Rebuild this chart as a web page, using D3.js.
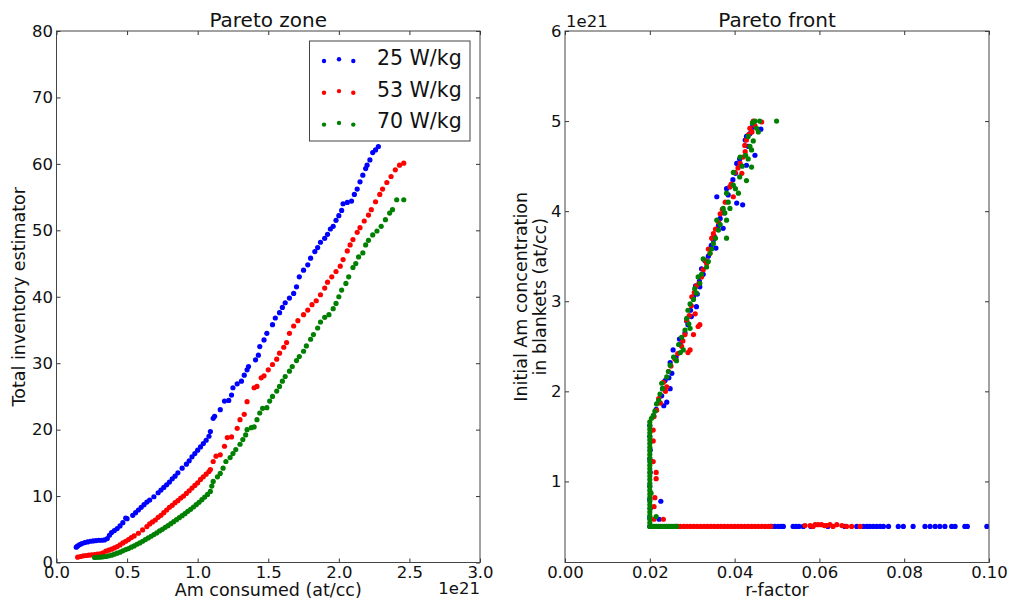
<!DOCTYPE html>
<html><head><meta charset="utf-8">
<script src="https://cdn.jsdelivr.net/npm/d3@7"></script>
<style>
body{margin:0;background:#fff;}
svg text{font-family:"DejaVu Sans",sans-serif;fill:#111;}
</style></head>
<body><svg id="c" width="1010" height="601"></svg>
<script>
// ---------- DATA ----------
const seriesNames = ["25 W/kg", "53 W/kg", "70 W/kg"];
const seriesColors = ["#0000ff", "#ff0000", "#008000"];
const leftXTicks = [0, 0.5, 1.0, 1.5, 2.0, 2.5, 3.0];
const leftYTicks = [0, 10, 20, 30, 40, 50, 60, 70, 80];
const rightXTicks = [0, 0.02, 0.04, 0.06, 0.08, 0.10];
const rightYTicks = [1, 2, 3, 4, 5, 6];

// Pareto zone: [Am consumed (1e21 at/cc), total inventory estimator]
const zone25 = [[0.14,2.3],[0.15,2.5],[0.165,2.7],[0.18,2.85],[0.2,3.0],[0.22,3.1],[0.24,3.2],[0.26,3.25],[0.28,3.3],[0.3,3.35],[0.32,3.35],[0.34,3.4],[0.36,3.6],[0.375,4.1],[0.39,4.5],[0.41,4.8],[0.43,5.1],[0.45,5.5],[0.47,6.0],[0.49,6.7],[0.5,6.6],[0.54,7.1],[0.56,7.5],[0.58,7.9],[0.6,8.3],[0.62,8.7],[0.64,9.1],[0.66,9.4],[0.69,9.9],[0.72,10.5],[0.74,10.9],[0.76,11.3],[0.78,11.7],[0.8,12.1],[0.82,12.6],[0.84,13.0],[0.86,13.5],[0.89,14.2],[0.92,14.8],[0.94,15.3],[0.96,15.9],[0.98,16.4],[1.0,16.9],[1.02,17.4],[1.04,17.9],[1.06,18.4],[1.08,19.0],[1.09,19.7],[1.11,21.7],[1.12,22.0],[1.16,23.0],[1.19,24.3],[1.22,24.4],[1.24,25.2],[1.25,26.3],[1.28,26.9],[1.31,27.3],[1.33,28.2],[1.35,29.0],[1.36,29.5],[1.41,30.5],[1.43,31.2],[1.44,32.5],[1.47,33.5],[1.49,34.5],[1.53,35.8],[1.55,36.8],[1.58,37.6],[1.6,38.4],[1.62,39.1],[1.65,39.8],[1.68,40.5],[1.7,41.5],[1.72,43.0],[1.75,44.0],[1.78,44.8],[1.8,45.8],[1.83,46.8],[1.85,47.4],[1.87,48.2],[1.9,48.8],[1.92,49.4],[1.94,50.2],[1.96,50.6],[1.98,51.5],[2.0,52.2],[2.02,53.0],[2.03,54.0],[2.06,54.2],[2.09,54.4],[2.11,55.4],[2.13,56.2],[2.15,57.3],[2.17,58.3],[2.19,59.3],[2.2,59.8],[2.22,60.6],[2.24,61.7],[2.26,62.1],[2.28,62.6]];
const zone53 = [[0.15,0.8],[0.17,0.9],[0.19,1.0],[0.21,1.05],[0.23,1.1],[0.25,1.15],[0.27,1.2],[0.29,1.25],[0.31,1.3],[0.33,1.45],[0.35,1.7],[0.37,1.85],[0.39,2.0],[0.41,2.2],[0.43,2.4],[0.45,2.65],[0.47,2.95],[0.49,3.2],[0.51,3.45],[0.53,3.75],[0.55,4.0],[0.58,4.4],[0.61,4.9],[0.64,5.4],[0.66,5.8],[0.68,6.1],[0.7,6.4],[0.72,6.8],[0.74,7.1],[0.76,7.5],[0.78,7.9],[0.8,8.3],[0.82,8.6],[0.84,9.0],[0.86,9.3],[0.88,9.7],[0.9,10.0],[0.92,10.4],[0.94,10.8],[0.96,11.2],[0.98,11.6],[1.0,12.0],[1.02,12.5],[1.04,12.9],[1.06,13.3],[1.08,13.7],[1.09,14.0],[1.11,15.2],[1.13,16.0],[1.16,16.2],[1.19,17.5],[1.21,18.8],[1.24,18.9],[1.28,20.2],[1.3,21.5],[1.33,22.3],[1.35,24.2],[1.4,26.3],[1.42,26.5],[1.45,27.8],[1.47,28.1],[1.5,29.0],[1.53,29.8],[1.56,30.6],[1.58,31.5],[1.61,32.4],[1.63,33.1],[1.65,34.5],[1.68,35.6],[1.71,36.4],[1.75,37.3],[1.78,38.0],[1.81,38.8],[1.84,39.4],[1.87,40.3],[1.9,41.3],[1.92,42.2],[1.95,43.0],[1.98,43.8],[2.01,44.6],[2.03,45.6],[2.06,46.9],[2.08,47.8],[2.1,48.6],[2.13,49.7],[2.15,50.4],[2.18,51.4],[2.21,52.3],[2.23,53.1],[2.26,54.3],[2.29,55.4],[2.31,56.2],[2.34,57.2],[2.37,58.1],[2.4,59.1],[2.43,59.8],[2.46,60.1]];
const zone70 = [[0.27,0.75],[0.29,0.78],[0.31,0.8],[0.33,0.85],[0.35,0.9],[0.37,1.0],[0.39,1.1],[0.41,1.25],[0.43,1.4],[0.45,1.55],[0.47,1.75],[0.49,1.95],[0.51,2.1],[0.53,2.3],[0.55,2.5],[0.57,2.75],[0.59,2.95],[0.61,3.2],[0.63,3.45],[0.65,3.7],[0.67,3.95],[0.69,4.2],[0.71,4.45],[0.73,4.75],[0.75,5.0],[0.77,5.3],[0.79,5.55],[0.81,5.85],[0.83,6.15],[0.85,6.45],[0.87,6.75],[0.89,7.05],[0.91,7.35],[0.93,7.7],[0.95,8.0],[0.97,8.35],[0.99,8.7],[1.01,9.05],[1.03,9.45],[1.05,9.85],[1.07,10.25],[1.09,10.7],[1.1,11.5],[1.11,12.2],[1.14,12.9],[1.16,13.4],[1.18,14.2],[1.2,15.2],[1.23,15.8],[1.25,16.4],[1.27,17.0],[1.3,17.8],[1.32,18.5],[1.34,19.2],[1.35,20.0],[1.38,20.3],[1.4,20.4],[1.42,21.5],[1.44,22.5],[1.46,23.2],[1.49,23.3],[1.51,24.3],[1.53,25.0],[1.56,25.8],[1.58,26.5],[1.6,27.3],[1.62,28.0],[1.65,28.8],[1.67,29.5],[1.7,30.4],[1.72,31.0],[1.75,31.8],[1.77,32.6],[1.8,33.6],[1.82,34.3],[1.85,35.3],[1.87,36.2],[1.9,36.9],[1.93,37.3],[1.96,38.2],[1.98,39.0],[2.0,40.0],[2.02,41.0],[2.05,42.0],[2.07,43.0],[2.1,44.4],[2.12,45.0],[2.14,46.0],[2.17,46.6],[2.19,47.8],[2.21,48.5],[2.24,49.3],[2.27,49.9],[2.3,50.6],[2.33,51.6],[2.36,52.6],[2.38,53.1],[2.41,54.6],[2.46,54.6]];

// Pareto front: [r-factor, initial Am concentration (1e21 at/cc)]
const front25 = [[0.02,0.5],[0.02,0.6],[0.0201,0.7],[0.02,0.8],[0.02,0.95],[0.0201,1.1],[0.02,1.25],[0.0201,1.35],[0.02,1.5],[0.02,1.62],[0.0226,0.78],[0.0222,0.58],[0.0209,1.73],[0.0233,1.84],[0.024,1.88],[0.0248,2.03],[0.023,2.03],[0.0236,2.12],[0.0252,2.2],[0.0248,2.32],[0.0255,2.46],[0.0272,2.52],[0.0283,2.65],[0.029,2.74],[0.0298,2.83],[0.031,2.94],[0.0303,3.05],[0.0308,3.17],[0.0318,3.16],[0.0322,3.36],[0.033,3.45],[0.0356,3.59],[0.035,3.68],[0.0373,3.81],[0.0362,3.84],[0.0375,3.98],[0.0358,4.16],[0.0405,4.09],[0.0419,4.07],[0.0381,4.25],[0.0389,4.27],[0.0405,4.53],[0.0428,4.51],[0.0448,4.62],[0.0425,4.79],[0.0428,4.83],[0.0441,4.93],[0.0462,4.91],[0.0444,4.96],[0.0215,1.8],[0.0228,1.95],[0.0245,2.15],[0.0262,2.38],[0.027,2.58],[0.0287,2.78],[0.0296,2.9],[0.0312,3.08],[0.0317,3.22],[0.0326,3.3],[0.0338,3.5],[0.0345,3.62],[0.0352,3.72],[0.0366,3.92],[0.0372,4.02],[0.0385,4.18],[0.0396,4.35],[0.0402,4.42],[0.0412,4.58],[0.0432,4.72],[0.0436,4.86],[0.0487,0.5],[0.0495,0.5],[0.0503,0.5],[0.051,0.5],[0.0515,0.5],[0.0538,0.5],[0.0545,0.5],[0.0552,0.5],[0.0562,0.5],[0.058,0.5],[0.062,0.5],[0.066,0.5],[0.0688,0.5],[0.0704,0.5],[0.0712,0.5],[0.0719,0.5],[0.0727,0.5],[0.0735,0.5],[0.0743,0.5],[0.0751,0.5],[0.0763,0.5],[0.0786,0.5],[0.0798,0.5],[0.0821,0.5],[0.0849,0.5],[0.0861,0.5],[0.0873,0.5],[0.0884,0.5],[0.0896,0.5],[0.0912,0.5],[0.092,0.5],[0.0943,0.5],[0.0949,0.5],[0.0995,0.5]];
const front53 = [[0.0265,0.5],[0.0272,0.5],[0.028,0.5],[0.0288,0.5],[0.0296,0.5],[0.0304,0.5],[0.0312,0.5],[0.032,0.5],[0.0328,0.5],[0.0336,0.5],[0.0344,0.5],[0.0352,0.5],[0.036,0.5],[0.0368,0.5],[0.0376,0.5],[0.0384,0.5],[0.0392,0.5],[0.04,0.5],[0.0408,0.5],[0.0416,0.5],[0.0424,0.5],[0.0432,0.5],[0.044,0.5],[0.0448,0.5],[0.0456,0.5],[0.0464,0.5],[0.0472,0.5],[0.048,0.5],[0.0485,0.5],[0.0566,0.51],[0.0578,0.51],[0.059,0.52],[0.0597,0.52],[0.0605,0.52],[0.0612,0.51],[0.0617,0.51],[0.0625,0.52],[0.0641,0.52],[0.0653,0.51],[0.0664,0.5],[0.0676,0.5],[0.0696,0.5],[0.0585,0.5],[0.0632,0.5],[0.0208,1.57],[0.0208,1.45],[0.0208,1.22],[0.0215,1.1],[0.0215,1.03],[0.0212,0.82],[0.021,0.72],[0.021,0.58],[0.0232,0.58],[0.021,1.72],[0.0216,1.79],[0.0221,1.92],[0.0237,2.0],[0.024,2.05],[0.0244,2.22],[0.0259,2.36],[0.0275,2.5],[0.029,2.43],[0.0295,2.46],[0.0283,2.63],[0.0303,2.63],[0.0314,2.72],[0.0318,2.74],[0.0287,2.79],[0.0307,2.86],[0.0299,3.05],[0.031,3.17],[0.0322,3.27],[0.0326,3.35],[0.0334,3.42],[0.0342,3.53],[0.0346,3.7],[0.035,3.75],[0.0362,3.88],[0.0366,3.97],[0.0397,4.16],[0.0389,4.27],[0.0417,4.42],[0.0401,4.43],[0.0413,4.53],[0.042,4.6],[0.0424,4.73],[0.0428,4.79],[0.0436,4.92],[0.0444,5.0],[0.0464,4.99],[0.0225,1.87],[0.0232,2.1],[0.025,2.28],[0.0266,2.42],[0.0278,2.56],[0.0293,2.84],[0.0298,2.95],[0.0305,3.1],[0.0316,3.2],[0.0331,3.45],[0.0338,3.58],[0.0355,3.8],[0.0371,4.02],[0.0378,4.1],[0.0392,4.3],[0.0408,4.48],[0.0425,4.66],[0.0433,4.85],[0.0448,4.95],[0.0441,4.88]];
const front70 = [[0.02,0.5],[0.0205,0.5],[0.021,0.5],[0.0215,0.5],[0.022,0.5],[0.0225,0.5],[0.023,0.5],[0.0235,0.5],[0.024,0.5],[0.0245,0.5],[0.025,0.5],[0.0255,0.5],[0.026,0.5],[0.0263,0.5],[0.02,0.54],[0.02,0.58],[0.02,0.62],[0.02,0.66],[0.02,0.7],[0.02,0.74],[0.02,0.78],[0.02,0.82],[0.02,0.86],[0.02,0.9],[0.02,0.94],[0.02,0.98],[0.02,1.02],[0.02,1.06],[0.02,1.1],[0.02,1.14],[0.02,1.18],[0.02,1.22],[0.02,1.26],[0.02,1.3],[0.02,1.34],[0.02,1.38],[0.02,1.42],[0.02,1.46],[0.02,1.5],[0.02,1.54],[0.02,1.58],[0.02,1.62],[0.02,1.66],[0.0203,0.87],[0.0215,0.61],[0.0204,1.7],[0.0208,1.73],[0.0216,1.86],[0.0221,1.9],[0.0224,1.97],[0.0228,2.09],[0.024,2.16],[0.0248,2.29],[0.0263,2.34],[0.0272,2.43],[0.0279,2.46],[0.0275,2.6],[0.0283,2.68],[0.0295,2.7],[0.0287,2.81],[0.029,2.9],[0.0295,2.97],[0.031,3.09],[0.0318,3.2],[0.0314,3.27],[0.0334,3.38],[0.0326,3.47],[0.0342,3.53],[0.035,3.64],[0.0381,3.7],[0.0362,3.79],[0.0358,3.9],[0.0381,3.9],[0.0373,4.03],[0.0389,4.03],[0.0381,4.2],[0.0409,4.2],[0.0397,4.29],[0.0428,4.34],[0.0397,4.43],[0.044,4.49],[0.0432,4.58],[0.0413,4.6],[0.044,4.68],[0.0444,4.78],[0.0432,4.83],[0.0456,4.88],[0.0448,5.0],[0.0459,5.0],[0.0499,5.0],[0.0212,1.78],[0.023,2.03],[0.0244,2.22],[0.0256,2.38],[0.0268,2.52],[0.0292,2.75],[0.0303,3.02],[0.0306,3.14],[0.0322,3.3],[0.0338,3.44],[0.0346,3.58],[0.0355,3.7],[0.0366,3.85],[0.0377,3.98],[0.0385,4.1],[0.0402,4.25],[0.0412,4.38],[0.0418,4.5],[0.0426,4.62],[0.0436,4.72],[0.0452,4.92],[0.0442,4.98]];

// ---------- DRAW ----------
const svg = d3.select("#c");
const TICK_FS = 16.5, LABEL_FS = 17.5, TITLE_FS = 20, LEGEND_FS = 20.5;
const R = 2.6;

function panel(x0, x1, y0, y1, xDom, yDom, xTicks, yTicks, xFmt, yFmt, data, title, xLabel, yLabels) {
  const x = d3.scaleLinear().domain(xDom).range([x0, x1]);
  const y = d3.scaleLinear().domain(yDom).range([y1, y0]);
  const g = svg.append("g");
  g.append("rect").attr("x", x0).attr("y", y0).attr("width", x1 - x0).attr("height", y1 - y0)
    .attr("fill", "#fff");
  const clip = "clip" + Math.round(x0);
  svg.append("clipPath").attr("id", clip).append("rect")
    .attr("x", x0).attr("y", y0).attr("width", x1 - x0).attr("height", y1 - y0);
  data.forEach((s, i) => {
    g.append("g").attr("clip-path", `url(#${clip})`).selectAll("circle").data(s).join("circle")
      .attr("cx", d => x(d[0])).attr("cy", d => y(d[1])).attr("r", R)
      .attr("fill", seriesColors[i]);
  });
  const style = a => { a.select(".domain").remove(); a.selectAll("line").attr("stroke", "#333"); a.selectAll("text").attr("font-size", TICK_FS).attr("font-family", "DejaVu Sans").attr("fill", "#111"); };
  g.append("g").attr("transform", `translate(0,${y1})`)
    .call(d3.axisBottom(x).tickValues(xTicks).tickFormat(xFmt).tickSizeInner(-4).tickSizeOuter(0).tickPadding(4)).call(style);
  g.append("g").attr("transform", `translate(0,${y0})`)
    .call(d3.axisTop(x).tickValues(xTicks).tickFormat("").tickSizeInner(-4).tickSizeOuter(0)).call(style);
  g.append("g").attr("transform", `translate(${x0},0)`)
    .call(d3.axisLeft(y).tickValues(yTicks).tickFormat(yFmt).tickSizeInner(-4).tickSizeOuter(0).tickPadding(3.5)).call(style);
  g.append("g").attr("transform", `translate(${x1},0)`)
    .call(d3.axisRight(y).tickValues(yTicks).tickFormat("").tickSizeInner(-4).tickSizeOuter(0)).call(style);
  g.append("rect").attr("x", x0).attr("y", y0).attr("width", x1 - x0).attr("height", y1 - y0)
    .attr("fill", "none").attr("stroke", "#444").attr("stroke-width", 1);
  svg.append("text").attr("x", (x0 + x1) / 2).attr("y", 27).attr("text-anchor", "middle")
    .attr("font-size", TITLE_FS).text(title);
  svg.append("text").attr("x", (x0 + x1) / 2).attr("y", 596).attr("text-anchor", "middle")
    .attr("font-size", LABEL_FS).text(xLabel);
  yLabels.forEach(l => {
    svg.append("text").attr("transform", `translate(${l.x},${(y0 + y1) / 2}) rotate(-90)`)
      .attr("text-anchor", "middle").attr("dominant-baseline", "central")
      .attr("font-size", LABEL_FS).text(l.t);
  });
  return {x, y};
}

const L = panel(56.5, 480, 31, 562.5, [0, 3], [0, 80], leftXTicks, leftYTicks,
  d3.format(".1f"), d3.format("d"), [zone25, zone53, zone70],
  "Pareto zone", "Am consumed (at/cc)", [{x: 19, t: "Total inventory estimator"}]);
svg.append("text").attr("x", 480).attr("y", 594).attr("text-anchor", "end")
  .attr("font-size", TICK_FS).text("1e21");

const Rp = panel(565, 989, 31, 562.5, [0, 0.1], [0.1, 6], rightXTicks, rightYTicks,
  d3.format(".2f"), d3.format("d"), [front25, front53, front70],
  "Pareto front", "r-factor", [{x: 521, t: "Initial Am concentration"}, {x: 540, t: "in blankets (at/cc)"}]);
svg.append("text").attr("x", 566).attr("y", 27).attr("text-anchor", "start")
  .attr("font-size", TICK_FS).text("1e21");

// legend
const lg = svg.append("g");
lg.append("rect").attr("x", 309.5).attr("y", 41).attr("width", 160.5).attr("height", 100)
  .attr("fill", "#fff").attr("stroke", "#444").attr("stroke-width", 1);
const dotX = [324, 339, 353.3], dotDY = [1, -0.7, 1];
seriesNames.forEach((n, i) => {
  const cy = 60 + i * 31.8;
  dotX.forEach((dx, j) => lg.append("circle").attr("cx", dx).attr("cy", cy + dotDY[j]).attr("r", 2.2).attr("fill", seriesColors[i]));
  lg.append("text").attr("x", 377).attr("y", 65 + i * 31.7).attr("font-size", LEGEND_FS).text(n);
});
</script></body></html>
